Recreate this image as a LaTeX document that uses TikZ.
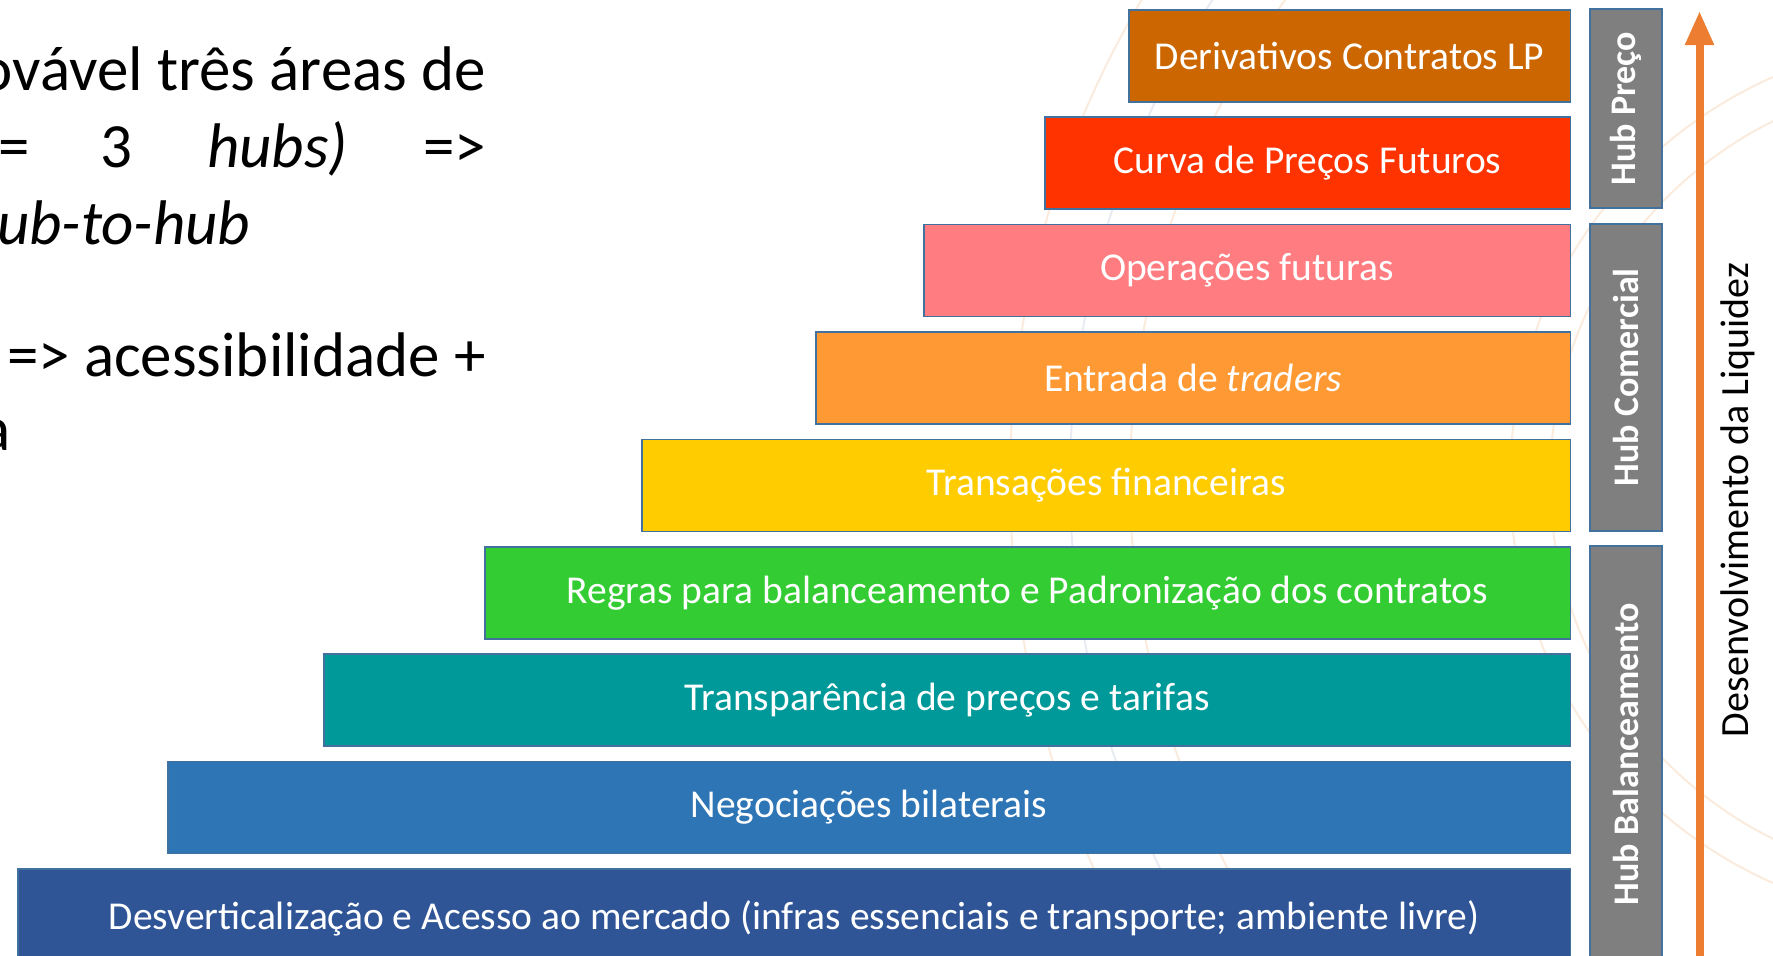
\documentclass[tikz,border=0pt]{standalone}
\usepackage{fontspec}
\setmainfont{Carlito}
\usetikzlibrary{arrows.meta}
\definecolor{cA}{HTML}{CC6600}
\definecolor{cB}{HTML}{FF3300}
\definecolor{cC}{HTML}{FF7C80}
\definecolor{cD}{HTML}{FF9933}
\definecolor{cE}{HTML}{FFCC00}
\definecolor{cF}{HTML}{33CC33}
\definecolor{cG}{HTML}{009999}
\definecolor{cH}{HTML}{2E75B6}
\definecolor{cI}{HTML}{2F5597}
\definecolor{hubgray}{HTML}{7F7F7F}
\definecolor{edgeblue}{HTML}{41719C}
\definecolor{arroworange}{HTML}{ED7D31}
\definecolor{faintor}{HTML}{FBEBDD}
\definecolor{faintbl}{HTML}{E8EBF2}
\begin{document}
\begin{tikzpicture}[x=1pt,y=-1pt,
  stepbox/.style={draw=edgeblue, line width=1.5pt, text=white, inner sep=0pt,
    anchor=north west, minimum height=92pt, font=\fontsize{39.5}{46}\selectfont},
  hubbox/.style={draw=edgeblue, line width=1.5pt, fill=hubgray, text=white, inner sep=0pt,
    rotate=90, minimum height=72.3pt, font=\fontsize{36}{42}\selectfont\bfseries},
  lefttext/.style={inner sep=0pt, font=\fontsize{63}{74}\selectfont, text=black},
  faint/.style={line width=2pt}]
\useasboundingbox (0,0) rectangle (1773,956);
\clip (0,0) rectangle (1773,956);
% faint background arcs
\draw[faint, faintor] (1950,480) circle[radius=820pt];
\draw[faint, faintbl] (1950,480) circle[radius=880pt];
\draw[faint, faintor] (1950,480) circle[radius=940pt];
\draw[faint, faintor] (1950,480) circle[radius=440pt];
\draw[faint, faintor] (1950,480) circle[radius=400pt];
% left text (cut off at the left edge, as in the reference)
\node[lefttext, anchor=base east] (t1) at (486,90) {ovável três áreas de};
\node[lefttext, anchor=base west] (t2a) at (-2,167) {=};
\node[lefttext, anchor=base west] (t2b) at (100,167) {3};
\node[lefttext, anchor=base west] (t2c) at (207,167) {\itshape hubs)};
\node[lefttext, anchor=base east] (t2d) at (486,167) {=>};
\node[lefttext, anchor=base west] (t3) at (-3,244) {\itshape ub-to-hub};
\node[lefttext, anchor=base east] (t4) at (486,376) {=> acessibilidade +};
\node[lefttext, anchor=base east] (t5) at (11,450) {a};
% steps
\node[stepbox, fill=cA, minimum width=441.5pt] (s1) at (1128,9) {\raisebox{-2pt}{Derivativos Contratos LP}};
\node[stepbox, fill=cB, minimum width=525.5pt] (s2) at (1044,116.4) {\raisebox{-3pt}{Curva de Preços Futuros}};
\node[stepbox, fill=cC, minimum width=646.5pt] (s3) at (923,223.8) {\raisebox{-2pt}{Operações futuras}};
\node[stepbox, fill=cD, minimum width=754.5pt] (s4) at (815,331.2) {\raisebox{-2pt}{Entrada de \itshape traders}};
\node[stepbox, fill=cE, minimum width=928.5pt] (s5) at (641,438.6) {\raisebox{-3pt}{Transações financeiras}};
\node[stepbox, fill=cF, minimum width=1085.5pt] (s6) at (484,546) {\raisebox{-3pt}{Regras para balanceamento e Padronização dos contratos}};
\node[stepbox, fill=cG, minimum width=1246.5pt] (s7) at (323,653.4) {\raisebox{-3pt}{Transparência de preços e tarifas}};
\node[stepbox, fill=cH, minimum width=1402.5pt] (s8) at (167,760.8) {\raisebox{-3pt}{Negociações bilaterais}};
\node[stepbox, fill=cI, minimum width=1552.5pt, minimum height=100pt] (s9) at (17,868.2) {\raisebox{7pt}{Desverticalização e Acesso ao mercado (infras essenciais e transporte; ambiente livre)}};
% hubs
\node[hubbox, minimum width=199pt] (h1) at (1626,108.5) {Hub Preço};
\node[hubbox, minimum width=307pt] (h2) at (1626,377.3) {Hub Comercial};
\node[hubbox, minimum width=416pt] (h3) at (1626,754) {Hub Balanceamento};
% arrow
\coordinate (abot) at (1699.5,970);
\coordinate (atop) at (1699.5,11);
\draw[arroworange, line width=8pt, -{Triangle[width=27pt,length=34pt]}] (abot) -- (atop);
\node[rotate=90, inner sep=0pt, font=\fontsize{40}{46}\selectfont] (liq) at (1738,500) {Desenvolvimento da Liquidez};
\end{tikzpicture}
\end{document}
